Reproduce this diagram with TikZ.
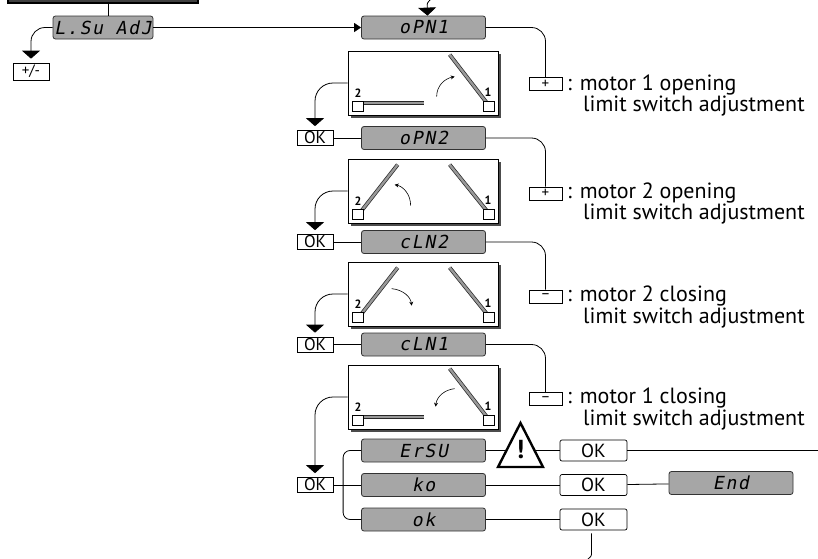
\documentclass[tikz,border=0pt]{standalone}
\usepackage{fontspec}
\setmainfont{PT Sans}
\newfontfamily\lcdfont[FakeSlant=0.2,LetterSpace=10]{DejaVu Sans Mono}
\usetikzlibrary{arrows.meta,shadows}

\begin{document}
\begin{tikzpicture}[x=1pt,y=-1pt,
  wire/.style={line width=0.8pt},
  down/.style={wire, -{Triangle[width=18pt,length=8pt]}},
  menu/.style={draw, fill=black!75, line width=1.6pt, minimum width=190pt, minimum height=24pt},
  lcd/.style={draw=black!80, fill=black!35, rounded corners=2.5pt, line width=0.8pt, minimum width=124pt, minimum height=23pt, inner sep=0pt, font=\lcdfont\fontsize{18}{18}\selectfont},
  okbox/.style={draw, fill=white, line width=0.7pt, minimum width=36pt, minimum height=15pt, inner sep=0pt, font=\fontsize{17}{17}\selectfont},
  okround/.style={okbox, rounded corners=2pt, minimum width=67pt, minimum height=21pt, font=\fontsize{19}{19}\selectfont},
  keybox/.style={draw, line width=0.7pt, minimum width=33pt, minimum height=13pt, inner sep=0pt, font=\fontsize{15}{15}\selectfont},
  note/.style={anchor=west, inner sep=0pt, font=\fontsize{22}{22}\selectfont},
  panel/.style={draw, fill=white, line width=0.7pt, minimum width=150pt, minimum height=64pt, inner sep=0pt,
    drop shadow={shadow xshift=3pt, shadow yshift=-3pt, fill=black!70, opacity=1}},
  leaf/.style={line width=3.8pt, black!85, postaction={draw=black!40, line width=2.4pt}},
  hinge/.style={draw, fill=white, line width=0.6pt, minimum width=11pt, minimum height=10pt, inner sep=0pt},
  swing/.style={line width=0.6pt, -{Stealth[length=4pt,width=4pt]}},
  num/.style={font=\bfseries\fontsize{12}{12}\selectfont, inner sep=0pt},
]
\useasboundingbox (0,0) rectangle (818,558);
\clip (0,0) rectangle (818,558);

% menu entry
\node[menu] (menu) at (103,-9) {};
\node[lcd, minimum width=100pt] (lsu) at (103,27.5) {L.Su AdJ};
\node[okbox, minimum height=17pt, font=\fontsize{15}{15}\selectfont] (pm) at (31,71.5) {+/-};
\draw[wire] ([xshift=5pt]menu.south) -- ([xshift=5pt]lsu.north);
\draw[down, rounded corners=14pt] (lsu.west) -| ([yshift=4pt]pm.north);

% displays
\node[lcd] (d1) at (423.5,27.5) {oPN1};
\node[lcd] (d2) at (423.5,138) {oPN2};
\node[lcd] (d3) at (423.5,242) {cLN2};
\node[lcd] (d4) at (423.5,344.5) {cLN1};
\node[lcd] (ersu) at (423.5,450.5) {ErSU};
\node[lcd] (ko) at (423.5,485) {ko};
\node[lcd] (ok) at (423.5,519.5) {ok};
\node[lcd] (end) at (731,483) {End};

\coordinate (entry) at (431,-1);
\draw[down] (entry) .. controls (427,3) .. ([xshift=4pt]d1.north);
\draw[wire, -{Triangle[width=9pt,length=7pt]}] (lsu.east) -- (d1.west);

% OK keys on the left
\node[okbox] (ok1) at (315,138) {OK};
\node[okbox] (ok2) at (315,242) {OK};
\node[okbox] (ok3) at (315,344.5) {OK};
\node[okbox] (ok4) at (315,485) {OK};
\draw[wire] (ok1) -- (d2);
\draw[wire] (ok2) -- (d3);
\draw[wire] (ok3) -- (d4);
\draw[wire] (ok4) -- (ko);
\draw[wire, rounded corners=7pt] (ersu.west) -- ++(-18,0) |- (ok.west);

% +/- keys on the right
\node[keybox] (k1) at (545.5,84) {+};
\node[keybox] (k2) at (545.5,193.5) {+};
\node[keybox] (k3) at (545.5,296.5) {--};
\node[keybox] (k4) at (545.5,399) {--};
\draw[wire, rounded corners=14pt] (d1.east) -| (k1.north);
\draw[wire, rounded corners=14pt] (d2.east) -| (k2.north);
\draw[wire, rounded corners=14pt] (d3.east) -| (k3.north);
\draw[wire, rounded corners=14pt] (d4.east) -| (k4.north);
\node[note] (t1) at (567,85) {: motor 1 opening};
\node[note] (t1b) at (583,106) {limit switch adjustment};
\node[note] (t2) at (567,193) {: motor 2 opening};
\node[note] (t2b) at (583,214) {limit switch adjustment};
\node[note] (t3) at (567,296) {: motor 2 closing};
\node[note] (t3b) at (583,318) {limit switch adjustment};
\node[note] (t4) at (567,398) {: motor 1 closing};
\node[note] (t4b) at (583,420) {limit switch adjustment};

% gate panels
\node[panel] (p1) at (423,83) {};
\node[panel] (p2) at (423,191) {};
\node[panel] (p3) at (423,294) {};
\node[panel] (p4) at (423,397) {};
\draw[down, rounded corners=18pt] (p1.west) -| ([yshift=4pt]ok1.north);
\draw[down, rounded corners=18pt] (p2.west) -| ([yshift=4pt]ok2.north);
\draw[down, rounded corners=18pt] (p3.west) -| ([yshift=4pt]ok3.north);
\draw[down, rounded corners=18pt] (p4.west) -| ([yshift=4pt]ok4.north);

% panel 1: motor 1 opens
\begin{scope}[shift={(p1.north west)}]
  \draw[leaf] (16,52.5) -- (76,52.5);
  \draw[leaf] (139,52) -- (102,4);
  \node[hinge] at (10.3,55.7) {};
  \node[hinge] at (141.2,55.7) {};
  \node[num] at (10.3,42.3) {2};
  \node[num] at (140.3,42) {1};
  \draw[swing] (89,46) .. controls (89,35) and (97,28) .. (107,26);
\end{scope}
% panel 2: motor 2 opens
\begin{scope}[shift={(p2.north west)}]
  \draw[leaf] (14,52) -- (50,6);
  \draw[leaf] (139,52) -- (102,6);
  \node[hinge] at (10.3,55.7) {};
  \node[hinge] at (141.2,55.7) {};
  \node[num] at (10.3,42.3) {2};
  \node[num] at (140.3,42) {1};
  \draw[swing] (63,47) .. controls (63,36) and (56,28) .. (47,26);
\end{scope}
% panel 3: motor 2 closes
\begin{scope}[shift={(p3.north west)}]
  \draw[leaf] (14,52) -- (50,6);
  \draw[leaf] (139,52) -- (102,6);
  \node[hinge] at (10.3,55.7) {};
  \node[hinge] at (141.2,55.7) {};
  \node[num] at (10.3,42.3) {2};
  \node[num] at (140.3,42) {1};
  \draw[swing] (44,27) .. controls (55,28) and (63,35) .. (64,44);
\end{scope}
% panel 4: motor 1 closes
\begin{scope}[shift={(p4.north west)}]
  \draw[leaf] (16,52.5) -- (76,52.5);
  \draw[leaf] (139,52) -- (102,4);
  \node[hinge] at (10.3,55.7) {};
  \node[hinge] at (141.2,55.7) {};
  \node[num] at (10.3,42.3) {2};
  \node[num] at (140.3,42) {1};
  \draw[swing] (107,24) .. controls (97,25) and (89,32) .. (88,42);
\end{scope}

% reset
\node[okround] (okA) at (593.5,450.5) {OK};
\node[okround] (okB) at (593.5,485) {OK};
\node[okround] (okC) at (593.5,519.5) {OK};
\coordinate (exitA) at (818,450.5);
\coordinate (exitC) at (588,559);
\draw[wire] (ersu) -- (okA);
\draw[wire] (okA) -- (exitA);
\draw[wire] (ko) -- (okB);
\draw[wire] (okB) -- (end);
\draw[wire] (ok) -- (okC);
\draw[wire] ([xshift=-2pt,yshift=-3pt]okC.south) -- (591.5,552) .. controls (591.5,556) .. (exitC);
\draw[line width=2.4pt, fill=white, line join=miter] (498,467) -- (520.5,423) -- (543,467) -- cycle;
\node[font=\bfseries\fontsize{26}{26}\selectfont, inner sep=0pt] (warn) at (520.5,450) {!};
\end{tikzpicture}
\end{document}
